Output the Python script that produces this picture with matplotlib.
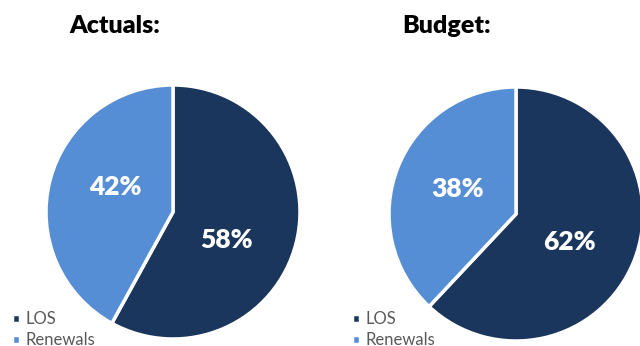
import matplotlib
matplotlib.use("Agg")
import matplotlib.pyplot as plt

# data
categories = ["LOS", "Renewals"]
actuals = [58, 42]
budget = [62, 38]
titles = ["Actuals:", "Budget:"]

colors = ["#1b365d", "#558ed5"]
W, H = 640, 346

plt.rcParams["font.family"] = ["Lato", "DejaVu Sans"]

fig = plt.figure(figsize=(W / 100, H / 100), dpi=100)
ax = fig.add_axes([0, 0, 1, 1])
ax.axis("off")

R = 127
# pie centres and title/legend anchors in pixel coords (y from top)
centres = [(173, 212), (516, 214)]
title_xy = [(115, 26), (447, 26)]
legend_xy = [(12, 311), (352, 311)]
# where the percentage labels sit relative to the centre (px, up is +)
label_off = [(53, -28), (-58, 25)]

for vals, (cx, cy), title, (tx, ty), (lx, ly) in zip(
        [actuals, budget], centres, titles, title_xy, legend_xy):
    wedges, _, autotexts = ax.pie(
        vals, colors=colors, startangle=90, counterclock=False,
        center=(cx, H - cy), radius=R, autopct="%d%%", pctdistance=0.5,
        wedgeprops=dict(edgecolor="white", linewidth=2.5),
        textprops=dict(color="white", fontsize=19, fontweight="heavy"))
    for t, (dx, dy) in zip(autotexts, label_off):
        t.set_position((cx + dx, H - cy + dy))
    ax.text(tx, H - ty, title, ha="center", va="center",
            fontsize=18, fontweight="heavy", color="black")
    fig.legend(wedges, categories, loc="upper left",
               bbox_to_anchor=(lx / W, 1 - ly / H), frameon=False,
               fontsize=12, labelcolor="#595959", handlelength=0.45,
               handleheight=0.45, handletextpad=0.35, labelspacing=0.3,
               borderpad=0, borderaxespad=0)

ax.set_xlim(0, W)
ax.set_ylim(0, H)
ax.set_aspect("equal")
fig.savefig("out.png", dpi=100)
